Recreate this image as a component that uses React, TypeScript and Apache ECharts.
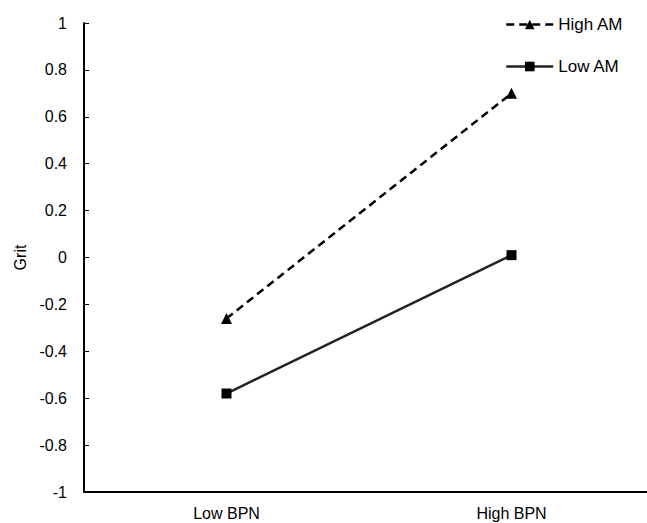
import React, { useEffect, useRef } from "react";
import * as echarts from "echarts";

const categories = ["Low BPN", "High BPN"];
const highAM = [-0.26, 0.7];
const lowAM = [-0.58, 0.01];
const yTicks = { min: -1, max: 1, interval: 0.2 };

export default function App() {
  const ref = useRef<HTMLDivElement>(null);
  useEffect(() => {
    document.body.style.margin = "0";
    document.body.style.overflow = "hidden";
    document.documentElement.style.overflow = "hidden";
    const chart = echarts.init(ref.current!, null, { renderer: "svg" });
    const font = "Liberation Sans, Arial, sans-serif";
    chart.setOption({
      animation: false,
      backgroundColor: "#fff",
      grid: { left: 84, right: 0, top: 23, bottom: 31, containLabel: false },
      legend: {
        orient: "vertical",
        left: 505,
        top: 16,
        padding: 0,
        itemWidth: 47,
        itemHeight: 12,
        itemGap: 25,
        lineStyle: { width: 2.5 },
        textStyle: { fontFamily: font, fontSize: 17, color: "#000" },
        data: ["High AM", "Low AM"],
      },
      xAxis: {
        type: "category",
        data: categories,
        boundaryGap: true,
        axisLine: { onZero: false, lineStyle: { color: "#000", width: 2 } },
        axisTick: { inside: true, length: 5, lineStyle: { color: "#000", width: 1 } },
        axisLabel: { fontFamily: font, fontSize: 16, color: "#000", margin: 13 },
      },
      yAxis: {
        type: "value",
        min: yTicks.min,
        max: yTicks.max,
        interval: yTicks.interval,
        name: "Grit",
        nameLocation: "middle",
        nameGap: 54,
        nameRotate: 90,
        nameTextStyle: { fontFamily: font, fontSize: 16, color: "#000" },
        axisLine: { show: true, lineStyle: { color: "#000", width: 2 } },
        axisTick: { show: true, inside: true, length: 5, lineStyle: { color: "#000", width: 1 } },
        axisLabel: { fontFamily: font, fontSize: 16, color: "#000", margin: 17 },
        splitLine: { show: false },
      },
      series: [
        {
          name: "High AM",
          type: "line",
          data: highAM,
          symbol: "triangle",
          symbolSize: 11,
          lineStyle: { color: "#000", width: 2.5, type: [8, 5] },
          itemStyle: { color: "#000" },
        },
        {
          name: "Low AM",
          type: "line",
          data: lowAM,
          symbol: "rect",
          symbolSize: 10,
          lineStyle: { color: "#222", width: 2.5 },
          itemStyle: { color: "#000" },
        },
      ],
    });
    return () => chart.dispose();
  }, []);
  return <div ref={ref} style={{ width: 654, height: 523 }} />;
}
